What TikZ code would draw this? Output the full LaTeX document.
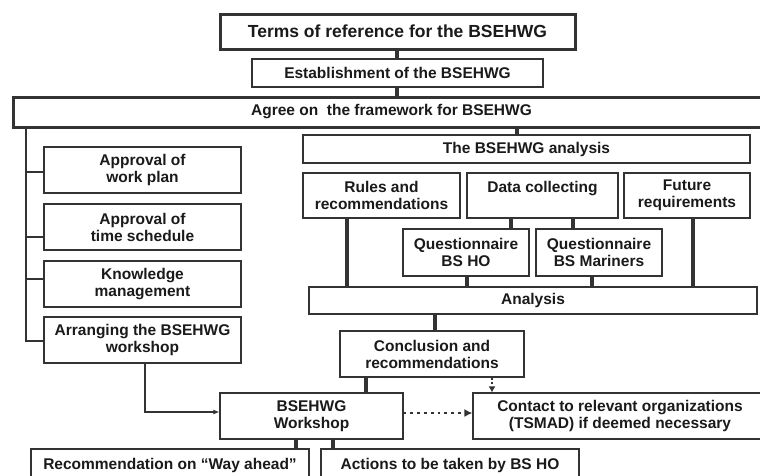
\documentclass[tikz,border=0pt]{standalone}
\usepackage{fontspec}
\setmainfont{Liberation Sans}
\usetikzlibrary{arrows.meta}
\definecolor{ln}{HTML}{333333}
\definecolor{tx}{HTML}{1A1A1A}
\tikzset{
  bx/.style={draw=ln, line width=1.1pt, inner sep=0pt, align=center, text=tx,
    font=\fontsize{15.5}{17}\selectfont\bfseries},
  bxthick/.style={bx, line width=3pt},
  conn/.style={draw=ln, line width=3.2pt},
  thinln/.style={draw=ln, line width=1.1pt},
  arr/.style={-{Latex[length=6pt,width=5pt]}},
  dotarr/.style={draw=ln, line width=2.8pt, dash pattern=on 2.8pt off 4pt, -{Latex[length=8pt,width=8pt]}},
  shortdot/.style={draw=ln, line width=2pt, dash pattern=on 2pt off 2.5pt, -{Latex[length=6pt,width=7pt]}},
}
% \bxnode[style]{name}{x1}{y1}{x2}{y2}{text}
\newcommand{\bxnode}[7][bx]{%
  \node[#1, minimum width={(#5-#3)*1pt}, minimum height={(#6-#4)*1pt}]
    (#2) at ({(#3+#5)/2},{(#4+#6)/2}) {#7};}
\begin{document}
\begin{tikzpicture}[x=1pt,y=-1pt]
\clip (0,0) rectangle (760,475);
\fill[white] (0,0) rectangle (760,475);
% top chain
\bxnode[bxthick]{terms}{220}{14}{575}{49}{\fontsize{17.5}{19}\selectfont Terms of reference for the BSEHWG}
\bxnode{estab}{252}{59}{543}{87}{Establishment of the BSEHWG}
\bxnode[bxthick]{agree}{13}{97}{770}{127}{Agree on\ \ the framework for BSEHWG}
% left column
\bxnode{wp}{44}{147}{241}{193}{Approval of\\work plan}
\bxnode{ts}{44}{204}{241}{250}{Approval of\\time schedule}
\bxnode{km}{44}{261}{241}{307}{Knowledge\\management}
\bxnode{arrws}{44}{317}{241}{363}{Arranging the BSEHWG\\workshop}
% analysis column
\bxnode{ana}{303}{135}{750}{163}{The BSEHWG analysis}
\bxnode{rules}{303}{173}{460}{218}{Rules and\\recommendations}
\bxnode{data}{467}{173}{618}{218}{Data collecting\\\mbox{}}
\bxnode{fut}{624}{173}{750}{218}{Future\\requirements}
\bxnode{qho}{403}{229}{529}{276}{Questionnaire\\BS HO}
\bxnode{qmar}{536}{229}{662}{276}{Questionnaire\\BS Mariners}
\bxnode{analysis}{309}{287}{757}{314}{Analysis}
\bxnode{concl}{340}{331}{524}{377}{Conclusion and\\recommendations}
\bxnode{ws}{220}{393}{403}{439}{BSEHWG\\Workshop}
\bxnode{contact}{473}{393}{767}{439}{Contact to relevant organizations\\(TSMAD) if deemed necessary}
\bxnode{rec}{31}{449}{309}{481}{Recommendation on ``Way ahead''}
\bxnode{act}{321}{449}{579}{481}{Actions to be taken by BS HO}
% connectors
\draw[conn] (terms.south -| 397,0) -- (estab.north -| 397,0);
\draw[conn] (estab.south -| 397,0) -- (agree.north -| 397,0);
\draw[conn] (agree.south -| 517,0) -- (ana.north -| 517,0);
\draw[conn] (rules.south -| 347,0) -- (analysis.north -| 347,0);
\draw[conn] (data.south -| 511,0) -- (qho.north -| 511,0);
\draw[conn] (data.south -| 573,0) -- (qmar.north -| 573,0);
\draw[conn] (fut.south -| 693,0) -- (analysis.north -| 693,0);
\draw[conn] (qho.south -| 467,0) -- (analysis.north -| 467,0);
\draw[conn] (qmar.south -| 592,0) -- (analysis.north -| 592,0);
\draw[conn] (analysis.south -| 435,0) -- (concl.north -| 435,0);
\draw[conn] (concl.south -| 366,0) -- (ws.north -| 366,0);
\draw[conn] (ws.south -| 296,0) -- (rec.north -| 296,0);
\draw[conn] (ws.south -| 333,0) -- (act.north -| 333,0);
% left bracket
\draw[thinln] (agree.south -| 26,0) -- (26,341) -- (arrws.west |- 0,341);
\draw[thinln] (26,172) -- (wp.west |- 0,172);
\draw[thinln] (26,237) -- (ts.west |- 0,237);
\draw[thinln] (26,279) -- (km.west |- 0,279);
% arrows
\draw[thinln, arr] (arrws.south -| 145,0) |- (ws.west |- 0,412);
\draw[dotarr] (ws.east |- 0,413) -- (contact.west |- 0,413);
\draw[shortdot] (concl.south -| 492,0) -- (contact.north -| 492,0);
\end{tikzpicture}
\end{document}
